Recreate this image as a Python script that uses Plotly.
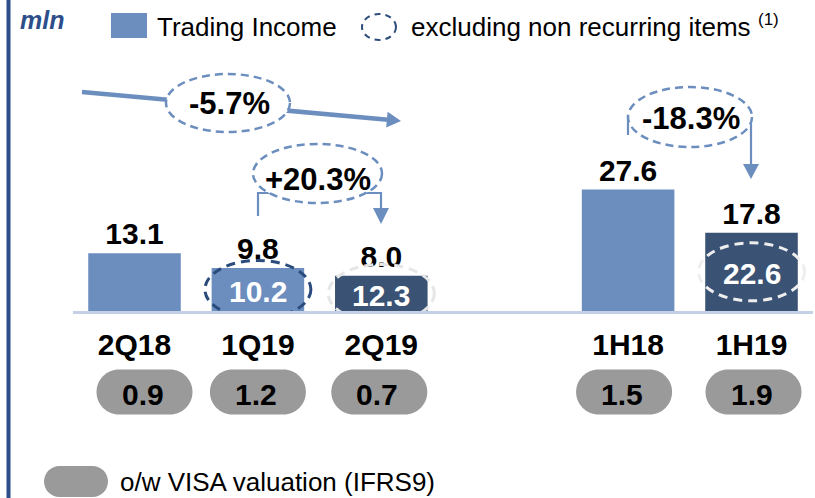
import plotly.graph_objects as go

# ---------------- data ----------------
periods = ["2Q18", "1Q19", "2Q19", "1H18", "1H19"]
trading_income = [13.1, 9.8, 8.0, 27.6, 17.8]
excl_non_recurring = [None, 10.2, 12.3, None, 22.6]
visa_valuation = [0.9, 1.2, 0.7, 1.5, 1.9]
growth_labels = ["-5.7%", "+20.3%", "-18.3%"]
legend_labels = ["Trading Income", "excluding non recurring items", "o/w VISA valuation (IFRS9)"]
unit_label = "mln"

# ---------------- style ----------------
W, H = 815, 498
FONT = "Arial, Liberation Sans, sans-serif"
LIGHT = "#6C8EBF"
DARK = "#3A5274"
NAVY = "#2C4E8A"
PILL = "#9A9A9A"
bar_colors = [LIGHT, LIGHT, DARK, LIGHT, DARK]
ellipse_colors = [None, "#2A4B7C", "#E6E6E6", None, "#EEEEEE"]
pill_shift = [10, 0, -2, -4, 2]
category_order = ["2Q18", "1Q19", "2Q19", " ", "1H18", "1H19"]

PX_PER_UNIT = 4.4
BASE_Y = 311
Y_TOP = BASE_Y / PX_PER_UNIT


def px(x):
    return x / W


def py(y):
    return 1 - y / H


def stadium(w, h, dx=0.0):
    r = h / 2
    a = w / 2 - r
    k = 0.5523 * r
    return (f"M {-a + dx},{-r} L {a + dx},{-r} C {a + k + dx},{-r} {a + r + dx},{-k} {a + r + dx},0 "
            f"C {a + r + dx},{k} {a + k + dx},{r} {a + dx},{r} L {-a + dx},{r} "
            f"C {-a - k + dx},{r} {-a - r + dx},{k} {-a - r + dx},0 "
            f"C {-a - r + dx},{-k} {-a - k + dx},{-r} {-a + dx},{-r} Z")


def ppath(points, close=False):
    s = "M " + " L ".join(f"{px(x)},{py(y)}" for x, y in points)
    return s + (" Z" if close else "")


def note(x, y, text, size, color="black", xanchor="center", yanchor="middle", **kw):
    return dict(x=px(x), y=py(y), xref="paper", yref="paper", text=text, showarrow=False,
                xanchor=xanchor, yanchor=yanchor, font=dict(family=FONT, size=size, color=color, **kw))


fig = go.Figure()
fig.add_trace(go.Bar(
    x=periods, y=trading_income,
    marker=dict(color=bar_colors, line=dict(width=0)),
    width=0.75,
    text=[f"{v:.1f}" for v in trading_income],
    textposition="outside",
    textfont=dict(family=FONT, size=30, color="black", weight="bold"),
    cliponaxis=False,
    hoverinfo="skip",
))

shapes = []
annotations = []

# left vertical rule
shapes.append(dict(type="line", xref="paper", yref="paper", x0=px(8.5), x1=px(8.5), y0=0, y1=1,
                   line=dict(color=NAVY, width=4)))

# in-bar "excluding non recurring" values with dashed ellipses
for p, v, ex, ec in zip(periods, trading_income, excl_non_recurring, ellipse_colors):
    if ex is None:
        continue
    shapes.append(dict(type="circle", xref="x", yref="y", xsizemode="pixel", ysizemode="pixel",
                       xanchor=p, yanchor=v / 2, x0=-53, x1=53, y0=-29, y1=29,
                       line=dict(color=ec, width=3, dash="9px,6px"), layer="above"))
    annotations.append(dict(x=p, y=v / 2, xref="x", yref="y", text=f"{ex:.1f}", showarrow=False,
                            xanchor="center", yanchor="middle",
                            font=dict(family=FONT, size=30, color="white", weight="bold"),
                            yshift=-2))

# VISA valuation pills under categories
for p, vv, dx in zip(periods, visa_valuation, pill_shift):
    shapes.append(dict(type="path", xref="x", yref="paper", xsizemode="pixel", ysizemode="pixel",
                       xanchor=p, yanchor=py(392), path=stadium(96, 45, dx),
                       fillcolor=PILL, line=dict(width=0)))
    annotations.append(dict(x=p, y=py(394), xref="x", yref="paper", text=f"{vv:.1f}", showarrow=False,
                            xanchor="center", yanchor="middle", xshift=dx - 2,
                            font=dict(family=FONT, size=30, color="black", weight="bold")))

ARROW = dict(color=LIGHT, width=2.2)
# -5.7% trend arrow
shapes.append(dict(type="line", xref="paper", yref="paper", x0=px(82), y0=py(92), x1=px(388), y1=py(119.8),
                   line=dict(color=LIGHT, width=4.5)))
shapes.append(dict(type="path", xref="paper", yref="paper",
                   path=ppath([(401, 121), (386.2, 127.6), (387.6, 111.8)], close=True),
                   fillcolor=LIGHT, line=dict(width=0)))
# +20.3% bracket
shapes.append(dict(type="path", xref="paper", yref="paper",
                   path=ppath([(258, 216), (258, 193), (381, 193), (381, 209)]), line=ARROW))
shapes.append(dict(type="path", xref="paper", yref="paper",
                   path=ppath([(373, 208), (389, 208), (381, 224)], close=True), fillcolor=LIGHT, line=dict(width=0)))
# -18.3% bracket
shapes.append(dict(type="path", xref="paper", yref="paper",
                   path=ppath([(628, 135), (628, 118), (751, 118), (751, 165)]), line=ARROW))
shapes.append(dict(type="path", xref="paper", yref="paper",
                   path=ppath([(743, 164), (759, 164), (751, 179)], close=True), fillcolor=LIGHT, line=dict(width=0)))

# growth ellipses (white fill hides lines behind)
for (cx, cy, rx, ry), lab, (tx, ty) in zip([(228, 103, 62, 29), (317.5, 173.5, 64.5, 29.5), (690, 117, 62, 30)],
                                           growth_labels, [(230, 104), (318, 179), (691, 119)]):
    shapes.append(dict(type="circle", xref="paper", yref="paper", x0=px(cx - rx), x1=px(cx + rx),
                       y0=py(cy + ry), y1=py(cy - ry), fillcolor="white",
                       line=dict(color=LIGHT, width=2.5, dash="8px,5px")))
    annotations.append(note(tx, ty, lab, 31, weight="bold"))

# top legend
annotations.append(note(42, 20, f"<b><i>{unit_label}</i></b>", 25, color=NAVY))
shapes.append(dict(type="rect", xref="paper", yref="paper", x0=px(111), x1=px(147), y0=py(38), y1=py(13),
                   fillcolor=LIGHT, line=dict(width=0)))
annotations.append(note(155, 27, legend_labels[0], 26, xanchor="left"))
shapes.append(dict(type="circle", xref="paper", yref="paper", x0=px(362), x1=px(396), y0=py(40), y1=py(14),
                   line=dict(color="#2A4B7C", width=2, dash="6px,5px")))
annotations.append(note(409, 27, legend_labels[1], 26, xanchor="left"))
annotations.append(note(756, 19, "(1)", 17, xanchor="left"))

# bottom legend
shapes.append(dict(type="path", xref="paper", yref="paper", xsizemode="pixel", ysizemode="pixel",
                   xanchor=px(76), yanchor=py(481.5), path=stadium(64, 31), fillcolor=PILL, line=dict(width=0)))
annotations.append(note(118, 482, legend_labels[2], 26, xanchor="left"))

fig.update_layout(
    width=W, height=H,
    margin=dict(l=0, r=0, t=0, b=0),
    paper_bgcolor="white", plot_bgcolor="white",
    showlegend=False,
    shapes=shapes, annotations=annotations,
    xaxis=dict(type="category", categoryorder="array", categoryarray=category_order,
               range=[-0.5, 5.5], domain=[px(72.8), px(813.2)],
               showline=True, linecolor="#C3D0E6", linewidth=3, ticks="", showgrid=False, zeroline=False,
               tickfont=dict(family=FONT, size=30, color="black", weight="bold"),
               ticklabelstandoff=5),
    yaxis=dict(range=[0, Y_TOP], domain=[1 - BASE_Y / H, 1], visible=False),
)

fig.write_html("out.html", config={"displayModeBar": False},
               post_script="document.body.style.margin='0';document.body.style.padding='0';")
